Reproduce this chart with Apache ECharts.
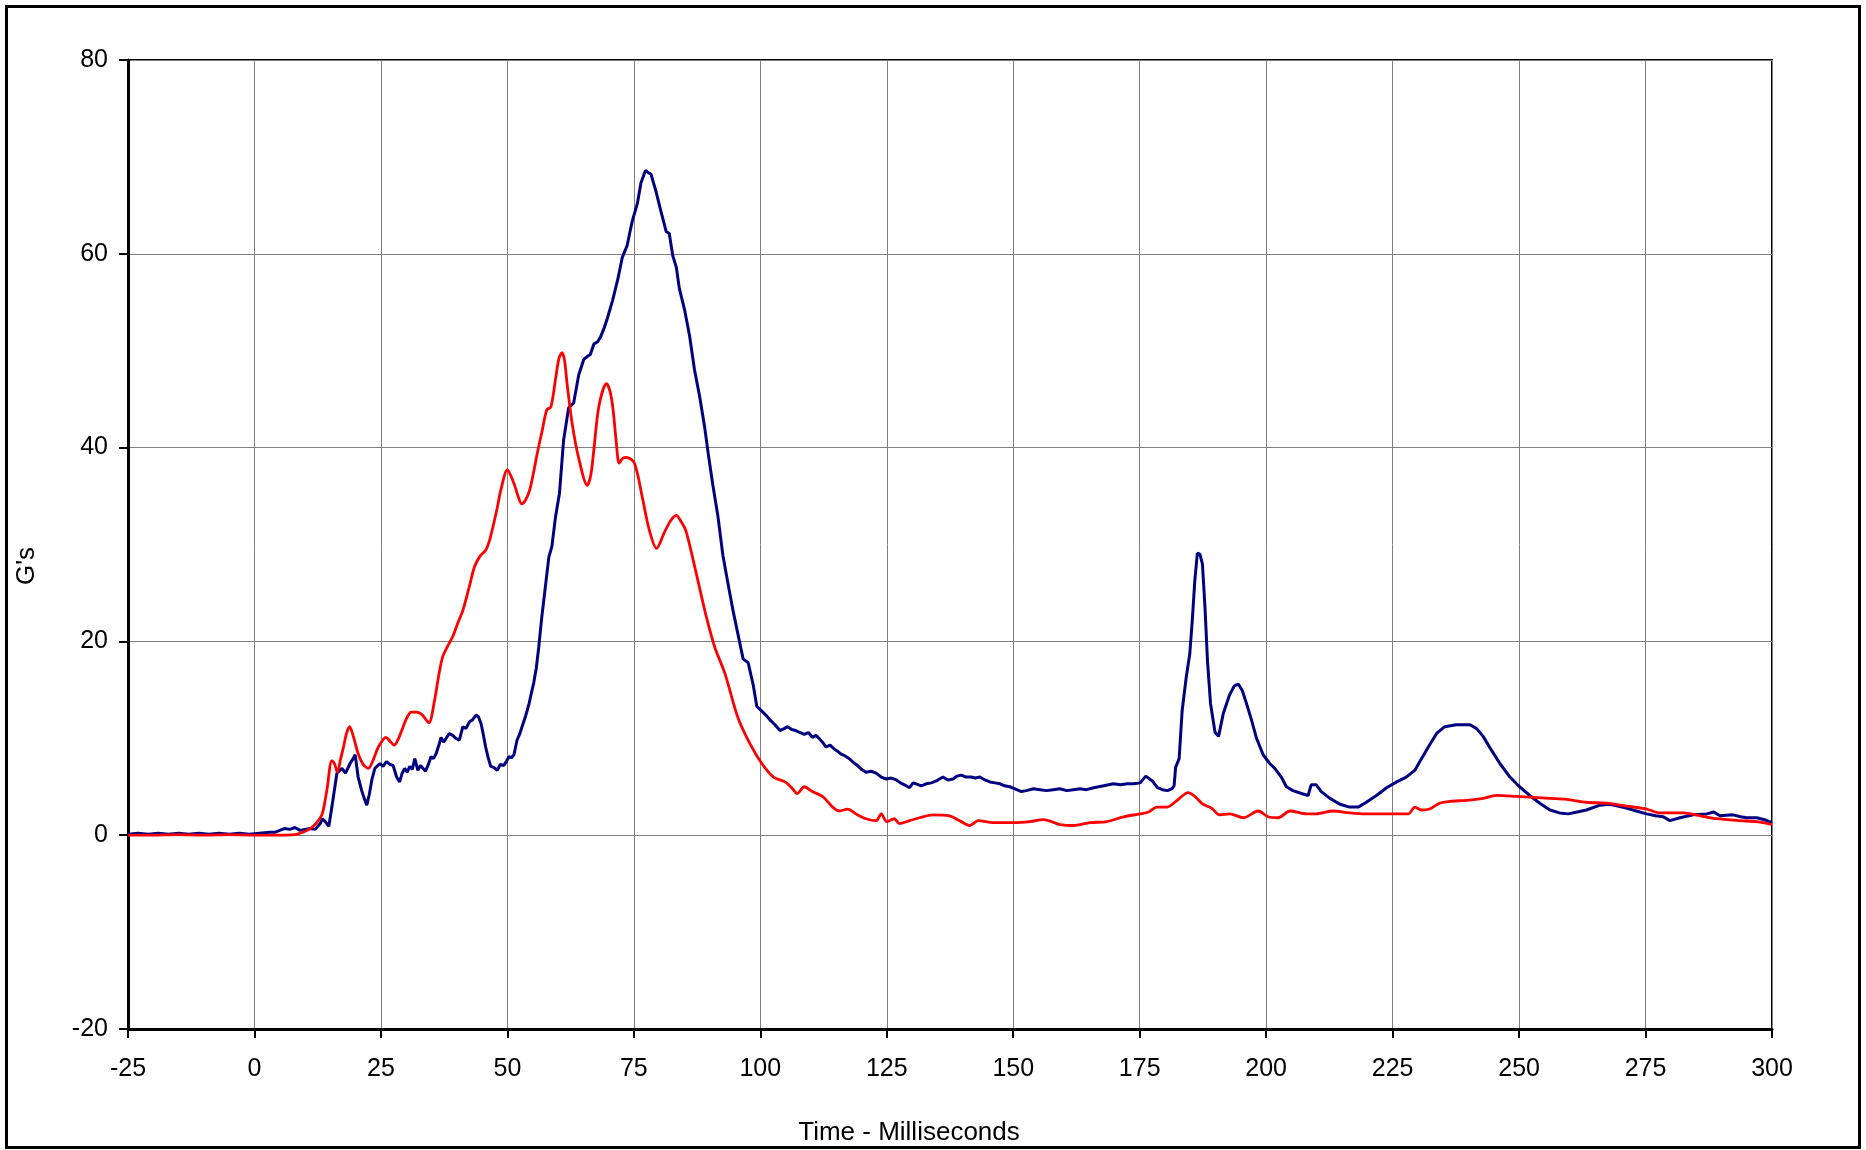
<!DOCTYPE html>
<html>
<head>
<meta charset="utf-8">
<script src="https://cdn.jsdelivr.net/npm/echarts@6/dist/echarts.min.js"></script>
<style>
html,body{margin:0;padding:0;background:#fff;}
#chart{width:1866px;height:1150px;}
</style>
</head>
<body>
<div id="chart"></div>
<script>
const xTicks = { min: -25, max: 300, interval: 25 };
const yTicks = { min: -20, max: 80, interval: 20 };
const xTitle = 'Time - Milliseconds';
const yTitle = "G's";

const navyTrace = [[-25,0.1],[-23,0.2],[-21,0.1],[-19,0.2],[-17,0.1],[-15,0.2],[-13,0.1],[-11,0.2],[-9,0.1],[-7,0.2],[-5,0.1],[-3,0.2],[-1,0.1],[1,0.2],[3,0.3],[4,0.3],[5,0.5],[6,0.7],[7,0.6],[8,0.8],[9,0.5],[10,0.6],[11,0.7],[12,0.6],[13,1.2],[13.4,1.7],[14,1.4],[14.7,0.9],[15.3,2.9],[16.3,6.4],[17.3,6.9],[18,6.4],[18.9,7.4],[19.5,7.9],[19.9,8.3],[20.5,6.0],[21.2,4.6],[21.7,3.8],[22.2,3.1],[22.7,4.2],[23.2,5.7],[23.8,6.9],[24.8,7.4],[25.4,7.1],[26.1,7.6],[26.8,7.3],[27.4,7.2],[28.1,6.0],[28.7,5.5],[29.2,6.4],[29.7,6.9],[30.2,6.5],[30.7,7.1],[31.2,6.8],[31.7,7.9],[32.3,6.7],[32.8,7.2],[33.3,6.9],[33.8,6.6],[34.3,7.2],[34.9,8.1],[35.4,7.9],[35.9,8.4],[36.4,9.2],[36.9,10.1],[37.4,9.6],[37.9,10.0],[38.5,10.5],[39.2,10.3],[39.8,10.0],[40.5,9.8],[41.2,11.2],[41.8,11.0],[42.5,11.7],[43.1,11.9],[43.8,12.4],[44.3,12.2],[44.8,11.5],[45.2,10.5],[45.7,9.1],[46.2,8.0],[46.7,7.1],[47.3,7.0],[48,6.7],[48.6,7.3],[49.3,7.2],[49.8,7.6],[50.3,8.1],[50.8,8.0],[51.3,8.3],[51.9,9.8],[52.4,10.4],[52.9,11.2],[53.6,12.3],[54.3,13.6],[54.8,14.8],[55.2,15.7],[55.7,17.2],[56.2,19.4],[56.8,22.5],[57.5,25.6],[58.2,28.7],[58.8,29.8],[59.5,32.8],[60.3,35.3],[61.1,40.7],[62.1,44.1],[63.1,44.6],[64.1,47.5],[65.1,49.1],[65.8,49.4],[66.4,49.6],[67.1,50.7],[67.8,50.9],[68.4,51.4],[69.1,52.3],[69.8,53.4],[70.8,55.2],[71.8,57.3],[72.7,59.6],[73.7,60.9],[74.2,62.2],[74.7,63.4],[75.7,65.2],[76.4,67.3],[77.3,68.6],[77.8,68.4],[78.4,68.2],[79.4,66.4],[80.4,64.3],[81.4,62.3],[82,62.1],[82.7,59.8],[83.4,58.6],[84,56.4],[85,54.3],[86,51.6],[87,48],[88,45.3],[89,42.1],[89.7,39.4],[90.6,36.2],[91.6,33.0],[92.6,28.9],[93.6,26],[94.6,23.2],[95.6,20.7],[96.6,18.2],[97.6,17.8],[98.6,15.5],[99.3,13.3],[100.3,12.8],[101.1,12.4],[101.9,11.9],[102.9,11.4],[103.9,10.8],[104.7,11.0],[105.4,11.2],[106.2,10.9],[107,10.8],[107.8,10.6],[108.7,10.4],[109.5,10.6],[110.3,10.1],[111,10.3],[111.6,10.0],[112.3,9.6],[113,9.1],[113.8,9.3],[114.6,8.9],[115.2,8.7],[115.9,8.4],[116.7,8.2],[117.6,7.9],[118.4,7.5],[119.2,7.2],[120,6.8],[120.9,6.5],[121.9,6.6],[122.9,6.4],[123.9,6.0],[124.9,5.8],[125.9,5.9],[126.9,5.7],[127.7,5.4],[128.5,5.2],[129.5,4.9],[130.2,5.4],[130.8,5.3],[131.8,5.1],[132.8,5.3],[133.8,5.4],[134.8,5.6],[135.4,5.8],[136.1,6.0],[137.1,5.7],[138.1,5.8],[138.9,6.1],[139.7,6.2],[140.7,6.0],[141.7,6.0],[142.5,5.9],[143.4,6.0],[144.4,5.7],[145.4,5.5],[146.4,5.4],[147.4,5.3],[148.3,5.1],[149.3,5.0],[150.7,4.7],[151.6,4.5],[152.6,4.6],[154,4.8],[155.3,4.7],[156.6,4.6],[157.9,4.7],[159.2,4.8],[160.6,4.6],[161.9,4.7],[163.2,4.8],[164.5,4.7],[165.9,4.9],[167.9,5.1],[169.8,5.3],[171.2,5.2],[172.5,5.3],[173.8,5.3],[175.1,5.4],[176.2,6.1],[176.5,6.2],[177.5,5.6],[178.5,4.9],[179.5,4.7],[180.5,4.6],[181.4,4.8],[181.8,5.1],[182.1,7.0],[182.8,7.9],[183.4,12.9],[184.2,16.3],[184.9,18.7],[185.4,22.2],[185.9,26.3],[186.4,29.1],[186.9,29.0],[187.4,28.0],[187.9,23.6],[188.4,18.0],[189,13.6],[189.9,10.6],[190.6,10.2],[191.5,12.5],[192.7,14.4],[193.7,15.4],[194.5,15.6],[195.3,14.9],[196.1,13.6],[197.1,11.9],[198.1,10],[199.4,8.3],[200.7,7.4],[201.7,6.9],[203,6.0],[204,5.0],[205.3,4.6],[207,4.3],[208.3,4.1],[208.9,5.2],[209.9,5.2],[210.9,4.5],[212.6,3.8],[214.6,3.2],[216.5,2.9],[218.2,2.9],[219.8,3.4],[221.8,4.1],[223.8,4.9],[225.8,5.5],[227.7,6.0],[229.4,6.7],[230.7,7.9],[232.3,9.3],[233.7,10.5],[235.3,11.2],[237.6,11.4],[240.3,11.4],[241.6,11.0],[242.9,10.2],[244.5,8.8],[246.2,7.4],[248.2,6.0],[250.1,5.0],[252.1,4.1],[254.1,3.3],[256.1,2.6],[258,2.3],[259.7,2.2],[261.5,2.4],[263.3,2.6],[266,3.1],[267.9,3.2],[269.5,3.0],[271.2,2.8],[273.2,2.5],[275.2,2.2],[277,2.0],[278.5,1.9],[279.8,1.5],[281.8,1.8],[284.4,2.1],[287.1,2.2],[288.5,2.4],[289.7,2.0],[292.3,2.1],[293.8,1.9],[295,1.8],[297,1.8],[298.5,1.6],[300,1.3]];

const redTrace = [[-25,0],[-20,0],[-15,0.05],[-10,0],[-5,0.05],[0,0],[5,0],[8,0.05],[9,0.2],[10,0.4],[11.1,0.7],[12.3,1.3],[13.4,2.2],[14.3,4.6],[15.3,7.7],[15.8,7.4],[16.4,6.5],[17,7.8],[17.6,9.1],[18.2,10.5],[18.8,11.2],[19.6,10.1],[20.5,8.4],[21.5,7.3],[22.5,6.9],[23.5,7.8],[24.5,9.1],[26,10.1],[26.8,9.7],[27.6,9.3],[28.5,10.0],[29.4,11.2],[30.2,12.2],[31,12.7],[32,12.7],[33,12.5],[33.8,12.0],[34.5,11.6],[35.6,13.9],[36.4,16.4],[37.2,18.4],[38.2,19.5],[39.2,20.5],[40.2,21.9],[41.2,23.2],[42.4,25.5],[43.5,27.7],[44.6,28.8],[45.7,29.4],[46.4,30.3],[47,31.5],[48,33.8],[48.7,35.6],[50,37.7],[51.3,36.3],[52.1,35.0],[52.8,34.2],[53.6,34.6],[54.4,35.6],[55.2,37.5],[55.9,39.4],[56.9,41.8],[57.8,43.9],[58.6,44.2],[59.5,47.0],[60.2,49.2],[60.8,49.8],[61.3,49.0],[61.8,46.6],[62.8,42.5],[64.1,38.9],[65.8,36.1],[66.5,37.2],[67.1,39.8],[68.1,44.3],[69.6,46.6],[70.3,45.8],[70.9,43.9],[71.5,40.7],[72.1,38.4],[72.8,38.9],[73.5,39.0],[75.1,38.4],[76.7,34.8],[78,31.6],[79.5,29.6],[81,31.2],[82.2,32.4],[83.4,33.0],[84.3,32.4],[85.3,31.4],[87.3,27.1],[89.3,22.6],[91,19.4],[93,16.7],[95.6,12.1],[98,9.4],[100.3,7.4],[102.6,6.0],[104.9,5.5],[106.2,4.9],[107.3,4.3],[108.7,5.0],[110.3,4.5],[112.3,4.0],[114.3,2.9],[115.6,2.5],[117.3,2.7],[118.9,2.2],[120.9,1.7],[122.9,1.5],[123.9,2.2],[125,1.4],[126.5,1.7],[127.5,1.2],[129.5,1.5],[131.5,1.8],[134.1,2.1],[137.4,2.0],[139.7,1.4],[141.4,1.0],[143.1,1.5],[146,1.3],[150,1.3],[153.3,1.4],[156,1.6],[159.3,1.1],[161.9,1.0],[165.2,1.3],[168.5,1.4],[171.8,1.9],[175.1,2.2],[176.8,2.4],[178.4,2.9],[180.4,2.9],[182.4,3.6],[184.6,4.4],[185.9,4.0],[187.5,3.2],[189.2,2.8],[190.8,2.1],[192.8,2.2],[195.5,1.8],[198.4,2.5],[200.4,1.9],[202.4,1.8],[204.7,2.5],[208,2.2],[209.9,2.2],[213.2,2.5],[216.5,2.3],[219.8,2.2],[222.5,2.2],[225.8,2.2],[228.1,2.2],[229.4,2.9],[230.7,2.6],[232.3,2.7],[234.3,3.3],[236.3,3.5],[239.6,3.6],[242.9,3.8],[245.5,4.1],[249.5,4.0],[252.8,3.9],[256.1,3.8],[259.4,3.7],[263.3,3.4],[267.3,3.3],[271.2,3.0],[275.2,2.7],[277.8,2.3],[282.5,2.3],[285.8,2.0],[289.1,1.7],[293.7,1.5],[297,1.4],[300,1.1]];

const chart = echarts.init(document.getElementById('chart'), null, { renderer: 'canvas' });
const FONT = "'Liberation Sans', Arial, sans-serif";

chart.setOption({
  animation: false,
  backgroundColor: '#fff',
  grid: { left: 128, right: 94, top: 60, bottom: 121, show: true, borderColor: '#000', borderWidth: 2, backgroundColor: 'transparent' },
  xAxis: {
    type: 'value', min: xTicks.min, max: xTicks.max, interval: xTicks.interval,
    axisLine: { show: true, onZero: false, lineStyle: { color: '#000', width: 3 } },
    axisTick: { show: true, inside: false, length: 9, lineStyle: { color: '#000', width: 2 } },
    axisLabel: { color: '#000', fontSize: 25, fontFamily: FONT, margin: 28 },
    splitLine: { show: true, lineStyle: { color: '#808080', width: 1 } }
  },
  yAxis: {
    type: 'value', min: yTicks.min, max: yTicks.max, interval: yTicks.interval,
    axisLine: { show: true, onZero: false, lineStyle: { color: '#000', width: 3 } },
    axisTick: { show: true, inside: false, length: 9, lineStyle: { color: '#000', width: 2 } },
    axisLabel: { color: '#000', fontSize: 25, fontFamily: FONT, margin: 20 },
    splitLine: { show: true, lineStyle: { color: '#808080', width: 1 } }
  },
  series: [
    { type: 'line', data: navyTrace, showSymbol: false, symbol: 'none', smooth: false,
      lineStyle: { color: '#000080', width: 3 }, z: 3 },
    { type: 'line', data: redTrace, showSymbol: false, symbol: 'none', smooth: 0.3,
      lineStyle: { color: '#ff0000', width: 2.8 }, z: 4 }
  ],
  graphic: [
    { type: 'rect', silent: true, z: 100, shape: { x: 6.5, y: 6.5, width: 1853, height: 1141 },
      style: { fill: 'none', stroke: '#000', lineWidth: 3 } },
    { type: 'text', silent: true, z: 100, x: 909, y: 1133,
      style: { text: xTitle, fill: '#000', font: "26px 'Liberation Sans', Arial, sans-serif", textAlign: 'center', textVerticalAlign: 'middle' } },
    { type: 'text', silent: true, z: 100, x: 27, y: 566, rotation: Math.PI / 2,
      style: { text: yTitle, fill: '#000', font: "26px 'Liberation Sans', Arial, sans-serif", textAlign: 'center', textVerticalAlign: 'middle' } }
  ]
});
</script>
</body>
</html>
